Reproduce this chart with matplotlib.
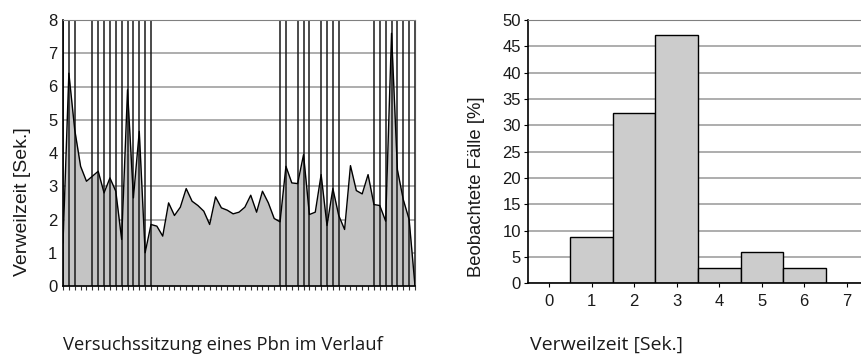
import matplotlib
matplotlib.use('Agg')
import matplotlib.pyplot as plt
import numpy as np

plt.rcParams['font.family'] = ['Liberation Sans', 'DejaVu Sans']

# left chart: dwell time per trial over the session
verweilzeit = [1.3, 6.4, 4.7, 3.6, 3.15, 3.3, 3.45, 2.8, 3.25, 2.85,
               1.4, 5.9, 2.65, 4.65, 1.0, 1.85, 1.8, 1.5, 2.5, 2.12,
               2.37, 2.93, 2.55, 2.42, 2.25, 1.85, 2.68, 2.35, 2.28, 2.17,
               2.22, 2.37, 2.73, 2.22, 2.85, 2.5, 2.03, 1.93, 3.6, 3.1,
               3.08, 3.95, 2.15, 2.22, 3.35, 1.82, 2.93, 2.12, 1.7, 3.62,
               2.87, 2.77, 3.35, 2.45, 2.42, 1.95, 7.6, 3.5, 2.6, 2.0, 0.0]
markierte = [0, 1, 2, 5, 6, 7, 8, 9, 10, 11, 12, 13, 14, 15,
             37, 38, 40, 41, 42, 44, 45, 46, 47, 53, 54, 55, 56, 57, 58, 59, 60]
y_ticks_left = [0, 1, 2, 3, 4, 5, 6, 7, 8]

# right chart: histogram of dwell times
sek = [0, 1, 2, 3, 4, 5, 6, 7]
faelle = [0, 8.8, 32.4, 47.1, 2.9, 5.9, 2.9, 0]
y_ticks_right = [0, 5, 10, 15, 20, 25, 30, 35, 40, 45, 50]

xlabel_font = ['Open Sans', 'DejaVu Sans']
txt = '#1a1a1a'

fig = plt.figure(figsize=(8.62, 3.54), dpi=100)

# ---- left
ax = fig.add_axes([63/862, 1-286/354, 352/862, 266/354])
x = np.arange(len(verweilzeit))
for v in y_ticks_left[1:]:
    ax.axhline(v, color='#a0a0a0', linewidth=1.2, zorder=0)
ax.fill_between(x, 0, verweilzeit, color='#c4c4c4', linewidth=0, zorder=1)
ax.plot(x, verweilzeit, color='black', linewidth=1.0, zorder=3)
for i in markierte:
    ax.axvline(i, color='#1a1a1a', linewidth=1.1, zorder=2)
ax.set_xlim(0, len(verweilzeit)-1)
ax.set_ylim(0, 8)
ax.set_xticks(x)
ax.set_xticklabels([])
ax.set_yticks(y_ticks_left)
ax.tick_params('x', length=3, width=0.8, direction='out', color='#333333')
ax.tick_params('y', length=0, pad=4, labelsize=12, labelcolor=txt)
ax.spines['top'].set_color('#808080')
ax.spines['right'].set_color('#505050')
ax.spines['left'].set_linewidth(1.2)
ax.spines['bottom'].set_linewidth(1.2)
fig.text(63/862, 1-350/354, 'Versuchssitzung eines Pbn im Verlauf', fontsize=13.2,
         family=xlabel_font, ha='left', va='baseline', color=txt)
fig.text(23/862, 1-202/354, 'Verweilzeit [Sek.]', fontsize=14, rotation=90,
         ha='center', va='center', color=txt)

# ---- right
ax2 = fig.add_axes([528/862, 1-283.3/354, 340/862, 263.3/354])
for v in y_ticks_right[1:]:
    ax2.axhline(v, color='#a0a0a0', linewidth=1.2, zorder=0)
ax2.bar(sek, faelle, width=1.0, color='#cccccc', edgecolor='black', linewidth=1.0, zorder=2)
ax2.set_xlim(-0.5, 7.5)
ax2.set_ylim(0, 50)
ax2.set_xticks(sek)
ax2.set_yticks(y_ticks_right)
ax2.tick_params('both', length=3, width=0.8, labelsize=12, labelcolor=txt)
ax2.tick_params('y', pad=2)
ax2.tick_params('x', pad=5)
ax2.spines['top'].set_color('#808080')
ax2.spines['right'].set_visible(False)
ax2.spines['left'].set_linewidth(1.2)
ax2.spines['bottom'].set_linewidth(1.2)
fig.text(530/862, 1-350/354, 'Verweilzeit [Sek.]', fontsize=14,
         family=xlabel_font, ha='left', va='baseline', color=txt)
fig.text(477/862, 1-187/354, 'Beobachtete Fälle [%]', fontsize=13.3, rotation=90,
         ha='center', va='center', color=txt)

plt.savefig('out.png', dpi=100)
